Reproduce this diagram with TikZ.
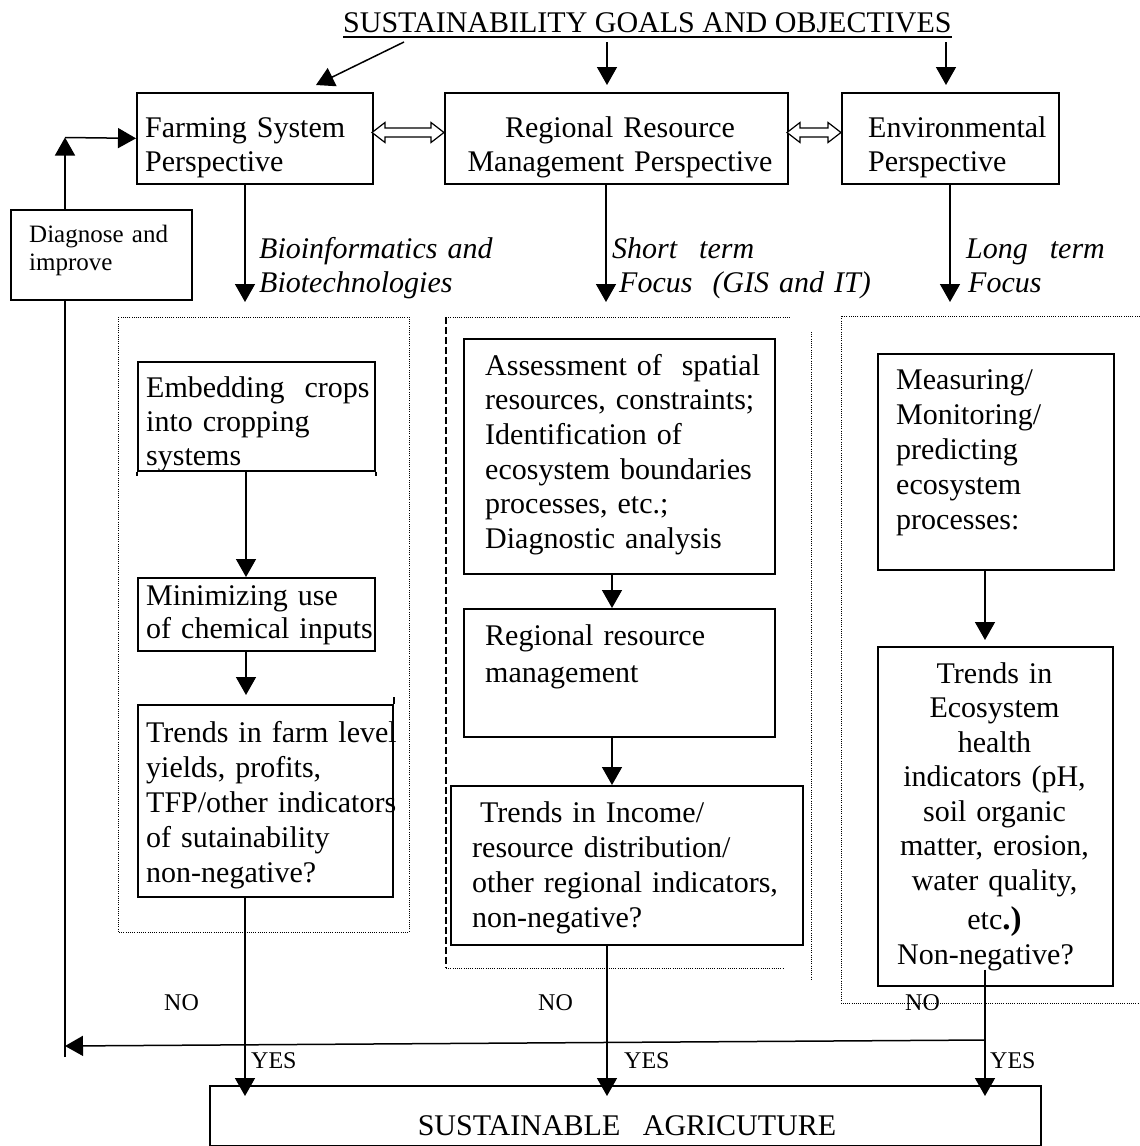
\documentclass[tikz,border=0pt]{standalone}
\usepackage{fontspec}
\setmainfont{Liberation Serif}
\usetikzlibrary{arrows.meta,calc}
\begin{document}
\begin{tikzpicture}[x=1pt,y=-1pt]
\tikzset{
  boxed/.style={draw, line width=1.7pt, inner sep=0pt, anchor=north west},
  bodytext/.style={inner sep=0pt, anchor=north west, align=left, font=\fontsize{30}{34.5}\selectfont},
  labtext/.style={inner sep=0pt, anchor=north west, align=left, font=\fontsize{30}{34}\selectfont\itshape},
  smalllab/.style={inner sep=0pt, anchor=base west, font=\fontsize{24}{28}\selectfont},
  arr/.style={line width=1.5pt, -{Triangle[length=18pt,width=20pt]}},
  plainline/.style={line width=1.5pt},
  dotline/.style={line width=1pt, dash pattern=on 1pt off 1.2pt},
  dashline/.style={line width=1.2pt, dash pattern=on 7pt off 3pt},
  hollow/.style={line width=1.2pt, fill=white, line join=miter}
}
\useasboundingbox (0,0) rectangle (1140,1146);

% ---------- title ----------
\node[inner sep=0pt, anchor=base west, font=\fontsize{30}{34.5}\selectfont] (title) at (343,32) {SUSTAINABILITY GOALS AND OBJECTIVES};
\draw[line width=1.8pt] ($(title.base west)+(0,5)$) -- ($(title.base east)+(0,5)$);

% ---------- top boxes ----------
\node[boxed, minimum width=236pt, minimum height=91pt] (farm) at (136,92) {};
\node[bodytext, text width=230pt] (farmT) at (145,112.85) {\strut Farming System\\Perspective};
\node[boxed, minimum width=343pt, minimum height=91pt] (reg) at (444,92) {};
\node[bodytext, anchor=north, align=center, text width=335pt] (regT) at (620,112.85) {\strut Regional Resource\\Management Perspective};
\node[boxed, minimum width=217pt, minimum height=91pt] (env) at (841,92) {};
\node[bodytext, text width=200pt] (envT) at (868,112.85) {\strut Environmental\\Perspective};

% title arrows
\coordinate (g1a) at (404,42); \coordinate (g1b) at (316,85);
\coordinate (g2a) at (607,42); \coordinate (g2b) at (607,85);
\coordinate (g3a) at (946,42); \coordinate (g3b) at (946,85);
\draw[arr] (g1a) -- (g1b);
\draw[arr] (g2a) -- (g2b);
\draw[arr] (g3a) -- (g3b);

% hollow double arrows
\draw[hollow] (372,132.5) -- (385,122.5) -- (385,128) -- (431,128) -- (431,122.5) -- (444,132.5) -- (431,142.5) -- (431,137) -- (385,137) -- (385,142.5) -- cycle;
\draw[hollow] (787,132.5) -- (800,122.5) -- (800,128) -- (828,128) -- (828,122.5) -- (841,132.5) -- (828,142.5) -- (828,137) -- (800,137) -- (800,142.5) -- cycle;

% diagnose box and feedback loop
\node[boxed, minimum width=181pt, minimum height=90pt] (diag) at (10,209) {};
\node[inner sep=0pt, anchor=north west, align=left, text width=170pt, font=\fontsize{25}{28}\selectfont] (diagT) at (29,222.4) {\strut Diagnose and\\improve};

% down arrows from perspectives
\coordinate (d1) at (245,302);
\coordinate (d2) at (606,302);
\coordinate (d3) at (950,302);
\draw[arr] (farm.south -| d1) -- (d1);
\draw[arr] (reg.south -| d2) -- (d2);
\draw[arr] (env.south -| d3) -- (d3);

% italic labels
\node[labtext, text width=260pt] (lab1) at (259,234) {\strut Bioinformatics and\\Biotechnologies};
\node[labtext, text width=260pt] (lab2) at (612,234) {\strut Short\hspace{22pt}term\\\hspace*{7pt}Focus\hspace{20pt}(GIS and IT)};
\node[labtext, text width=170pt] (lab3) at (966,234) {\strut Long\hspace{22pt}term\\\hspace*{2pt}Focus};

% dotted / dashed frames
\draw[dotline] (118,317) rectangle (409,932);
\draw[dashline] (446,317) -- (446,968);
\draw[dotline] (446,317) -- (790,317);
\draw[dotline] (446,968) -- (784,968);
\draw[dotline] (811,332) -- (811,981);
\draw[dotline] (1140,316) -- (841,316) -- (841,1003) -- (1140,1003);

% ---------- left column ----------
\node[boxed, minimum width=237pt, minimum height=109pt] (emb) at (137,361) {};
\draw[line width=1.7pt] (emb.south west) -- ++(0,4);
\draw[line width=1.7pt] (emb.south east) -- ++(0,4);
\node[bodytext, text width=230pt, font=\fontsize{30}{34}\selectfont] (embT) at (146,373.2) {\strut Embedding\ \ crops\\into cropping\\systems};
\node[boxed, minimum width=237pt, minimum height=73pt] (minz) at (137,577) {};
\node[bodytext, text width=232pt, font=\fontsize{30}{33}\selectfont] (minzT) at (146,581.9) {\strut Minimizing use\\of chemical inputs};
\node[boxed, minimum width=255pt, minimum height=192pt] (tfarm) at (137,704) {};
\draw[line width=1.7pt] (tfarm.north east) -- ++(0,-7);
\node[bodytext, text width=270pt, font=\fontsize{30}{35}\selectfont] (tfarmT) at (146,717.5) {\strut Trends in farm level\\yields, profits,\\TFP/other indicators\\of sutainability\\non-negative?};

\coordinate (cL) at (246,0);
\draw[arr] (emb.south -| cL) -- (minz.north -| cL);
\draw[arr] (minz.south -| cL) -- ($(tfarm.north -| cL)+(0,-9)$);

% ---------- middle column ----------
\node[boxed, minimum width=311pt, minimum height=235pt] (assess) at (463,338) {};
\node[bodytext, text width=290pt, font=\fontsize{30}{34.6}\selectfont] (assessT) at (485,350.8) {\strut Assessment of\ \ spatial\\resources, constraints;\\Identification of\\ecosystem boundaries\\processes, etc.;\\Diagnostic analysis};
\node[boxed, minimum width=311pt, minimum height=128pt] (regm) at (463,608) {};
\node[bodytext, text width=290pt, font=\fontsize{30}{37}\selectfont] (regmT) at (485,619.1) {\strut Regional resource\\management};
\node[boxed, minimum width=352pt, minimum height=159pt] (tinc) at (450,785) {};
\node[bodytext, text width=330pt, font=\fontsize{30}{35}\selectfont] (tincT) at (472,797.5) {\strut\hspace*{8pt}Trends in Income/\\resource distribution/\\other regional indicators,\\non-negative?};

\coordinate (cM) at (612,0);
\draw[arr] (assess.south -| cM) -- (regm.north -| cM);
\draw[arr] (regm.south -| cM) -- (tinc.north -| cM);

% ---------- right column ----------
\node[boxed, minimum width=236pt, minimum height=216pt] (meas) at (877,353) {};
\node[bodytext, text width=210pt, font=\fontsize{30}{35}\selectfont] (measT) at (896,364.5) {\strut Measuring/\\Monitoring/\\predicting\\ecosystem\\processes:};
\node[boxed, minimum width=235pt, minimum height=339pt] (teco) at (877,646) {};
\node[bodytext, anchor=north, align=center, text width=228pt, font=\fontsize{30}{34.5}\selectfont] (tecoT) at (994.5,658.9) {\strut Trends in\\Ecosystem\\health\\indicators (pH,\\soil organic\\matter, erosion,\\water quality,\\[5pt]etc{\fontsize{33}{34.5}\selectfont\bfseries.)}\\\hspace*{-18pt}Non-negative?};

\coordinate (cR) at (985,0);
\draw[arr] (meas.south -| cR) -- ($(teco.north -| cR)+(0,-6)$);

% ---------- bottom ----------
\node[boxed, minimum width=831pt, minimum height=60pt] (bot) at (209,1085) {};
\node[inner sep=0pt, anchor=base, font=\fontsize{30}{34.5}\selectfont] (botT) at (627,1135) {SUSTAINABLE\ \ \ AGRICUTURE};

\coordinate (cL2) at (245,0);
\coordinate (cM2) at (607,0);
\draw[arr] (tfarm.south -| cL2) -- ($(bot.north -| cL2)+(0,11)$);
\draw[arr] (tinc.south -| cM2) -- ($(bot.north -| cM2)+(0,11)$);
\draw[arr] ($(teco.south -| cR)+(0,-17)$) -- ($(bot.north -| cR)+(0,11)$);

% feedback
\coordinate (fbR) at (985,1040);
\coordinate (fbL) at (65,1046);
\coordinate (fbBot) at (65,1057);
\coordinate (fbTop) at (65,137.5);
\draw[arr] (fbR) -- (fbL);
\draw[plainline] (fbBot) -- (diag.south -| fbBot);
\draw[arr] (diag.north -| fbBot) -- (fbTop);
\draw[arr] (fbTop) -- (farm.west);

% NO / YES
\node[smalllab] (no1) at (164,1010) {NO};
\node[smalllab] (no2) at (538,1010) {NO};
\node[smalllab] (no3) at (905,1010) {NO};
\node[smalllab] (yes1) at (251,1068) {YES};
\node[smalllab] (yes2) at (624,1068) {YES};
\node[smalllab] (yes3) at (990,1068) {YES};
\end{tikzpicture}
\end{document}
